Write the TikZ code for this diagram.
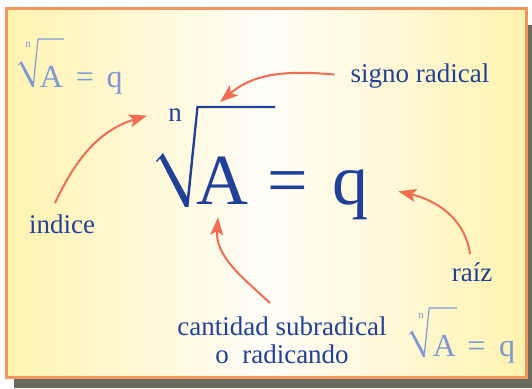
\documentclass[tikz,border=0pt]{standalone}
\usepackage{fontspec}
\setmainfont{Liberation Serif}
\usepackage{tikz}
\usetikzlibrary{arrows.meta}
\definecolor{rdblue}{HTML}{21409A}
\definecolor{rdlight}{HTML}{7E99D5}
\definecolor{rdarrow}{HTML}{F26C52}
\definecolor{rdframe}{HTML}{F7955F}
\definecolor{rdshadow}{HTML}{6A695C}
\definecolor{rdyellow}{HTML}{FFF3B0}

\begin{document}
\begin{tikzpicture}[x=1pt, y=1pt,
  lbl/.style={text=rdblue, font=\fontsize{27}{28}\selectfont, inner sep=0pt, anchor=base},
  big/.style={text=rdblue, font=\fontsize{72}{72}\selectfont, inner sep=0pt, anchor=base},
  idx/.style={lbl},
  small/.style={text=rdlight, font=\fontsize{32}{32}\selectfont, inner sep=0pt, anchor=base},
  smallidx/.style={text=rdlight, font=\fontsize{11}{11}\selectfont, inner sep=0pt, anchor=base},
  radshape/.style={insert path={(-31,46) -- (-24,54) -- (0,10) -- (9.5,101.2) -- (#1,101.2) -- (#1,98.8) -- (11.5,98.8) -- (1.5,0) -- (-2,0) -- (-27,48.5) -- (-30,45) -- cycle}},
  arr/.style={-{Stealth[length=18pt, width=13pt, inset=4pt]}, line width=2pt, rdarrow}]
  % card with shadow
  \useasboundingbox (0,0) rectangle (532,388);
  \fill[rdshadow] (13.5,0) rectangle (532,363);
  \shade[left color=rdyellow, right color=rdyellow, middle color=rdyellow!8!white] (6.5,11) rectangle (526,379.5);
  \draw[rdframe, line width=3pt] (6.5,11) rectangle (526,379.5);
  % radical signs
  \fill[rdblue, shift={(187,181)}, radshape=88];
  \fill[rdlight, shift={(33,301)}, scale=0.48, radshape=65];
  \fill[rdlight, shift={(424,31)}, scale=0.49, radshape=67];
  % main formula
  \node[idx] (n) at (175,266) {n};
  \node[big] (A) at (222,183) {A};
  \node[big] (eq) at (288,183) {=};
  \node[big] (q) at (350,183) {q};
  % small copies
  \node[smallidx] (n1) at (28,340) {n};
  \node[small] (A1) at (51.5,300) {A};
  \node[small] (eq1) at (85,300) {=};
  \node[small] (q1) at (114.5,300) {q};
  \node[smallidx] (n2) at (421,70) {n};
  \node[small] (A2) at (444.5,32) {A};
  \node[small] (eq2) at (476.5,32) {=};
  \node[small] (q2) at (507,32) {q};
  % labels
  \node[lbl] (signo) at (420,305) {signo radical};
  \node[lbl] (indice) at (62,154) {indice};
  \node[lbl] (raiz) at (472,106) {raíz};
  \node[lbl, align=center] (cantidad) at (282,25) {cantidad subradical\\o~~radicando};
  \coordinate (radtop) at (220,286);
  \draw[arr] ([xshift=-16pt, yshift=2pt]signo.west) to[out=175, in=40] (radtop);
  \draw[arr] ([xshift=-7pt, yshift=12pt]indice.north) to[out=65, in=197] ([xshift=-21pt]n.west);
  \draw[arr] ([xshift=-2pt, yshift=9pt]raiz.north) to[out=98, in=-13] ([xshift=30pt, yshift=4pt]q.east);
  \draw[arr] ([xshift=-12pt, yshift=13pt]cantidad.north) to[out=137, in=-94] ([xshift=-4pt, yshift=-12pt]A.south);
\end{tikzpicture}
\end{document}
